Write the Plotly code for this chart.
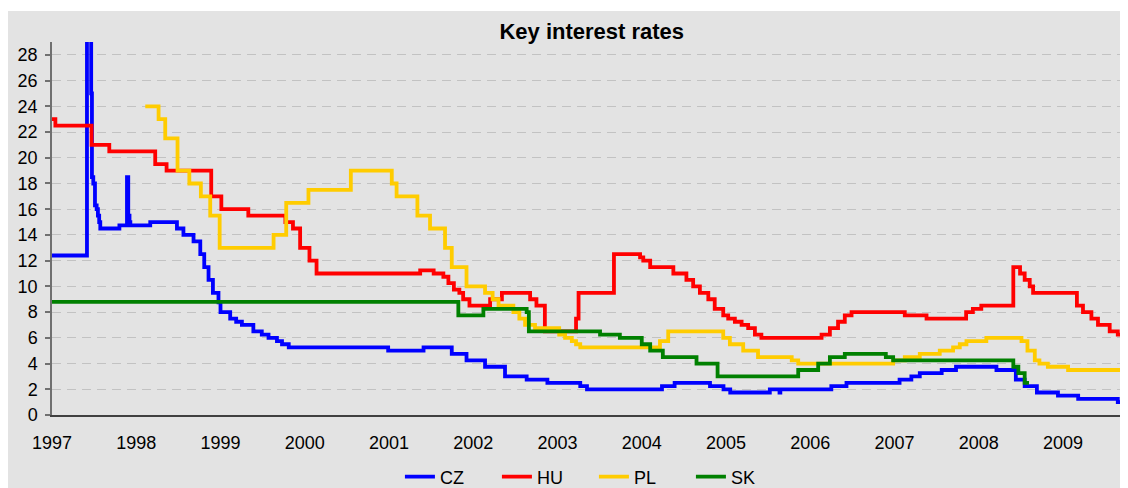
import plotly.graph_objects as go

# Key policy rates (step series), x in decimal years
cz_t = [1997.00, 1997.415, 1997.465, 1997.474, 1997.49, 1997.51, 1997.53, 1997.545, 1997.56, 1997.573,
        1997.80, 1997.89, 1997.905, 1997.92, 1997.93, 1998.166, 1998.483, 1998.56, 1998.68, 1998.76,
        1998.807, 1998.858, 1998.91, 1998.976, 1999.0, 1999.115, 1999.186, 1999.254, 1999.39, 1999.49,
        1999.57, 1999.67, 1999.73, 1999.81, 2000.99, 2001.41, 2001.745, 2001.92, 2002.14, 2002.377,
        2002.634, 2002.88, 2003.27, 2003.35, 2004.24, 2004.39, 2004.81, 2004.97, 2005.05, 2005.52,
        2005.635, 2005.645, 2006.25, 2006.43, 2007.06, 2007.2, 2007.3, 2007.56, 2007.73, 2008.21,
        2008.44, 2008.545, 2008.69, 2008.94, 2009.18, 2009.65, 2009.71]
cz_v = [12.4, 39.0, 25.0, 18.5, 18.0, 16.3, 16.0, 15.5, 15.0, 14.5,
        14.75, 18.5, 15.5, 15.0, 14.75, 15.0, 14.5, 14.0, 13.5, 12.5,
        11.5, 10.5, 9.5, 8.75, 8.0, 7.5, 7.25, 7.0, 6.5, 6.25,
        6.0, 5.75, 5.5, 5.25, 5.0, 5.25, 4.75, 4.25, 3.75, 3.0,
        2.75, 2.5, 2.25, 2.0, 2.25, 2.5, 2.25, 2.0, 1.75, 2.0,
        1.75, 2.0, 2.25, 2.5, 2.75, 3.0, 3.25, 3.5, 3.75, 3.5,
        2.75, 2.25, 1.75, 1.5, 1.25, 1.0, 1.0]

hu_t = [1997.0, 1997.04, 1997.47, 1997.68, 1998.225, 1998.36, 1998.89, 1999.01, 1999.33, 1999.77,
        1999.86, 1999.945, 2000.056, 2000.14, 2001.37, 2001.53, 2001.645, 2001.705, 2001.77, 2001.835,
        2001.88, 2001.955, 2002.2, 2002.34, 2002.675, 2002.75, 2002.85, 2003.22, 2003.25, 2003.67,
        2003.98, 2004.018, 2004.1, 2004.375, 2004.53, 2004.61, 2004.69, 2004.79, 2004.866, 2004.967,
        2005.026, 2005.105, 2005.185, 2005.263, 2005.343, 2005.42, 2006.134, 2006.233, 2006.33, 2006.41,
        2006.49, 2007.122, 2007.38, 2007.85, 2007.93, 2008.03, 2008.41, 2008.49, 2008.545, 2008.605,
        2008.645, 2009.165, 2009.237, 2009.337, 2009.415, 2009.554, 2009.65, 2009.71]
hu_v = [23.0, 22.5, 21.0, 20.5, 19.5, 19.0, 17.0, 16.0, 15.5, 15.0,
        14.5, 13.0, 12.0, 11.0, 11.25, 11.0, 10.75, 10.25, 9.75, 9.5,
        9.0, 8.5, 9.0, 9.5, 9.0, 8.5, 6.5, 7.5, 9.5, 12.5,
        12.25, 12.0, 11.5, 11.0, 10.5, 10.0, 9.5, 9.0, 8.25, 7.75,
        7.5, 7.25, 7.0, 6.75, 6.25, 6.0, 6.25, 6.75, 7.25, 7.75,
        8.0, 7.75, 7.5, 8.0, 8.25, 8.5, 11.5, 11.0, 10.5, 10.0,
        9.5, 8.5, 8.0, 7.5, 7.0, 6.5, 6.25, 6.25]

pl_t = [1998.107, 1998.265, 1998.344, 1998.49, 1998.63, 1998.767, 1998.878, 1998.99, 1999.63, 1999.78,
        2000.044, 2000.547, 2001.033, 2001.09, 2001.337, 2001.487, 2001.665, 2001.745, 2001.92, 2002.14,
        2002.23, 2002.3, 2002.476, 2002.547, 2002.615, 2002.733, 2003.02, 2003.09, 2003.17, 2003.22,
        2003.27, 2004.216, 2004.314, 2004.967, 2005.046, 2005.204, 2005.38, 2005.78, 2005.857, 2006.984,
        2007.122, 2007.30, 2007.537, 2007.695, 2007.775, 2007.854, 2008.09, 2008.507, 2008.578, 2008.665,
        2008.72, 2008.82, 2009.06, 2009.71]
pl_v = [24.0, 23.0, 21.5, 19.0, 18.0, 17.0, 15.5, 13.0, 14.0, 16.5,
        17.5, 19.0, 18.0, 17.0, 15.5, 14.5, 13.0, 11.5, 10.0, 9.5,
        9.0, 8.5, 8.0, 7.5, 7.0, 6.75, 6.25, 6.0, 5.75, 5.5,
        5.25, 5.75, 6.5, 6.0, 5.5, 5.0, 4.5, 4.25, 4.0, 4.25,
        4.5, 4.75, 5.0, 5.25, 5.5, 5.75, 6.0, 5.75, 5.0, 4.25,
        4.0, 3.75, 3.5, 3.5]

sk_t = [1997.0, 2001.823, 2002.12, 2002.634, 2002.66, 2003.505, 2003.74, 2004.0, 2004.1, 2004.25,
        2004.65, 2004.9, 2005.857, 2006.094, 2006.233, 2006.41, 2006.897, 2006.984, 2008.41, 2008.47,
        2008.545, 2008.596]
sk_v = [8.8, 7.75, 8.25, 8.0, 6.5, 6.25, 6.0, 5.5, 5.0, 4.5,
        4.0, 3.0, 3.5, 4.0, 4.5, 4.75, 4.5, 4.25, 3.75, 3.25,
        2.5, 2.5]

year_ticks = list(range(1997, 2010))
year_labels = [str(y) for y in year_ticks]
y_ticks = list(range(0, 29, 2))

series = [
    ("CZ", cz_t, cz_v, "#0000ff"),
    ("HU", hu_t, hu_v, "#ff0000"),
    ("PL", pl_t, pl_v, "#ffcc00"),
    ("SK", sk_t, sk_v, "#008000"),
]

FONT = "Liberation Sans, Arial, sans-serif"
BG = "#e3e3e3"

fig = go.Figure()
for name, t, v, col in series:
    fig.add_trace(go.Scatter(x=t, y=v, mode="lines", name=name,
                             line=dict(color=col, width=3.8, shape="hv")))

fig.update_layout(
    width=1120, height=480,
    margin=dict(l=44, r=5, t=34, b=73, autoexpand=False),
    paper_bgcolor=BG,
    plot_bgcolor="rgba(0,0,0,0)",
    font=dict(family=FONT, size=18, color="black"),
    title=dict(text="<b>Key interest rates</b>", font=dict(family=FONT, size=22, color="black"),
               x=0.5212, xanchor="center", xref="container",
               y=0.952, yanchor="middle", yref="container", automargin=False),
    showlegend=True,
    legend=dict(orientation="h", x=0.506, xanchor="center", y=-0.166, yanchor="middle",
                bgcolor="rgba(0,0,0,0)", font=dict(family=FONT, size=18, color="black"),
                entrywidth=52, entrywidthmode="pixels"),
    shapes=[dict(type="rect", xref="paper", yref="paper",
                 x0=-0.05, x1=1.01, y0=1.0831, y1=1.1,
                 fillcolor="white", line=dict(width=0), layer="below")],
)

fig.update_xaxes(range=[1997, 2009.712], tickmode="array", tickvals=year_ticks, ticktext=year_labels,
                 showline=True, linecolor="#404040", linewidth=1.5, showgrid=False, zeroline=False,
                 automargin=False,
                 ticks="", ticklabelstandoff=11, tickfont=dict(family=FONT, size=18, color="black"))
fig.update_yaxes(range=[0, 29], tickmode="array", tickvals=y_ticks,
                 showline=True, linecolor="#707070", linewidth=1.5, automargin=False,
                 ticks="outside", ticklen=5, tickcolor="#707070", tickwidth=1.5,
                 showgrid=True, gridcolor="#c2c2c2", gridwidth=1, griddash="9px,6px",
                 zeroline=False, ticklabelstandoff=4,
                 tickfont=dict(family=FONT, size=18, color="black"))

fig.write_html("out.html")
